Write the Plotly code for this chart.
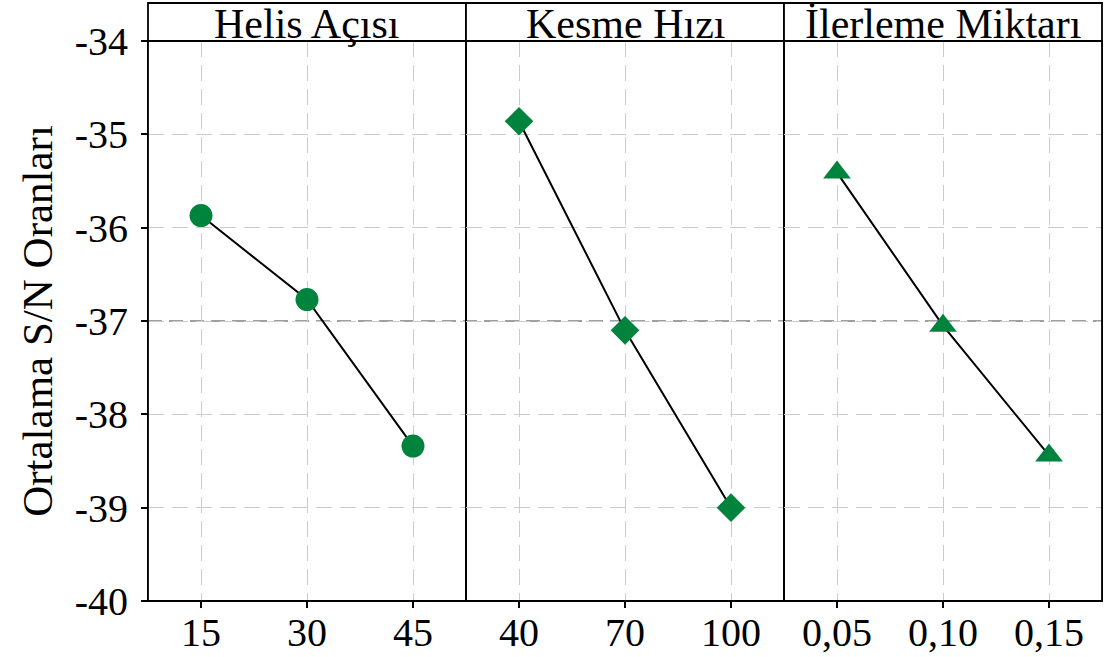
import plotly.graph_objects as go
from plotly.subplots import make_subplots

panel_titles = ["Helis Açısı", "Kesme Hızı", "İlerleme Miktarı"]
helis_levels = ["15", "30", "45"]
helis_sn = [-35.87, -36.77, -38.34]
kesme_levels = ["40", "70", "100"]
kesme_sn = [-34.86, -37.10, -39.00]
ilerleme_levels = ["0,05", "0,10", "0,15"]
ilerleme_sn = [-35.41, -37.05, -38.44]
overall_mean = -37.0
y_ticks = [-40, -39, -38, -37, -36, -35, -34]

FONT = "Liberation Serif, Times New Roman, serif"
GREEN = "#00843d"
FS = 40
FT = 43

fig = make_subplots(rows=1, cols=3, shared_yaxes=True, horizontal_spacing=0)

series = [
    (helis_levels, helis_sn, "circle", 23),
    (kesme_levels, kesme_sn, "diamond", 22),
    (ilerleme_levels, ilerleme_sn, "triangle-up", 24),
]
for i, (xs, ys, sym, sz) in enumerate(series, start=1):
    fig.add_trace(
        go.Scatter(
            x=xs, y=ys, mode="lines+markers",
            line=dict(color="black", width=2),
            marker=dict(symbol=sym, size=sz, color=GREEN, line=dict(width=0)),
            showlegend=False,
        ),
        row=1, col=i,
    )
    fig.update_xaxes(
        type="category", range=[-0.5, 2.5],
        showgrid=True, gridcolor="#cccccc", griddash="16px,8px", gridwidth=1,
        showline=True, linecolor="black", linewidth=1, mirror=True,
        ticks="outside", ticklen=6, tickcolor="black", tickwidth=1.5,
        tickfont=dict(family=FONT, size=FS, color="black"),
        ticklabelstandoff=-10,
        zeroline=False, automargin=False,
        row=1, col=i,
    )

fig.update_yaxes(
    range=[-40, -34], tickvals=y_ticks, ticktext=[str(v) for v in y_ticks],
    showgrid=True, gridcolor="#cccccc", griddash="16px,8px", gridwidth=1,
    showline=True, linecolor="black", linewidth=1, mirror=True,
    zeroline=False, automargin=False,
)
fig.update_yaxes(
    ticks="outside", ticklen=6, tickcolor="black", tickwidth=1.5,
    tickfont=dict(family=FONT, size=FS, color="black"),
    ticklabelstandoff=5,
    title=dict(text="Ortalama S/N Oranları", font=dict(family=FONT, size=FT, color="black"), standoff=8),
    row=1, col=1,
)

# overall mean reference line across all panels
fig.add_shape(
    type="line", xref="paper", yref="y", x0=0, x1=1, y0=overall_mean, y1=overall_mean,
    line=dict(color="#808080", width=1.5, dash="14px,7px"), layer="below",
)

# outer frame (slightly heavier)
fig.add_shape(
    type="rect", xref="paper", yref="paper", x0=0, x1=1, y0=0, y1=1,
    line=dict(color="black", width=1.8), fillcolor="rgba(0,0,0,0)",
)

# header strips
plot_h = 657 - 41 - 56
hdr = 38 / plot_h
page_top = 41 / plot_h
bounds = [0, 1 / 3, 2 / 3, 1]
for k in range(3):
    fig.add_shape(
        type="rect", xref="paper", yref="paper",
        x0=bounds[k], x1=bounds[k + 1], y0=1, y1=1 + hdr,
        line=dict(color="black", width=1.8), fillcolor="white",
    )
    fig.add_annotation(
        text=panel_titles[k], xref="paper", yref="paper",
        x=(bounds[k] + bounds[k + 1]) / 2, y=1 + page_top,
        showarrow=False, xanchor="center", yanchor="top",
        borderpad=0,
        font=dict(family=FONT, size=42, color="black"),
    )

fig.update_layout(
    width=1105, height=657,
    margin=dict(l=148, r=3, t=41, b=56),
    plot_bgcolor="white", paper_bgcolor="white",
    font=dict(family=FONT, color="black"),
)

fig.write_html(
    "out.html",
    config={"displayModeBar": False},
    post_script="document.body.style.margin='0';",
)
